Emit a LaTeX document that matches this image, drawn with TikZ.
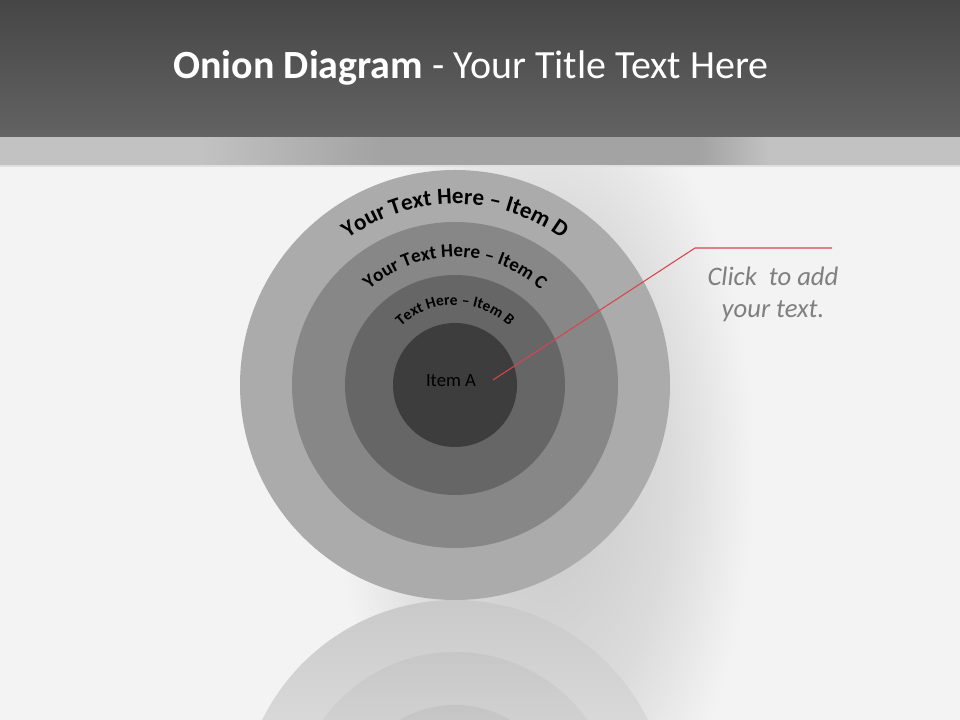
\documentclass[tikz,border=0pt]{standalone}
\usepackage{fontspec}
\setmainfont{Carlito}
\usepackage{tikz}
\usetikzlibrary{shapes,arrows.meta,calc,positioning,decorations.text}
\tikzset{>=latex}
\usepackage{xcolor}

\definecolor{slidebg}{HTML}{F3F3F3}
\definecolor{headtop}{HTML}{464646}
\definecolor{headbot}{HTML}{636363}
\definecolor{bandlight}{HTML}{C2C2C2}
\definecolor{banddark}{HTML}{A3A3A3}
\definecolor{ringD}{HTML}{ABABAB}
\definecolor{ringC}{HTML}{878787}
\definecolor{ringB}{HTML}{666666}
\definecolor{ringA}{HTML}{3D3D3D}
\definecolor{calloutred}{HTML}{D9434F}
\definecolor{callouttext}{HTML}{7F7F7F}

% soft shadow behind the onion
\pgfdeclareradialshading{softshadow}{\pgfpoint{0bp}{0bp}}{%
  color(0bp)=(black!22); color(8bp)=(black!14); color(13bp)=(slidebg); color(50bp)=(slidebg)}

\tikzset{
  ringlabel/.style={decorate, decoration={text along path, text align=center}},
  titletext/.style={text=white, anchor=base, inner sep=0pt, font=\fontsize{30}{36}\selectfont},
  itemtext/.style={text=black, font=\fontsize{14}{17}\selectfont},
  callout/.style={text=callouttext, align=center, font=\itshape\fontsize{20}{24}\selectfont},
  calloutline/.style={draw=calloutred, line width=0.8pt}
}

\begin{document}
\begin{tikzpicture}[x=0.75pt,y=0.75pt]
  \useasboundingbox (0,0) rectangle (960,720);
  \clip (0,0) rectangle (960,720);

  % slide background
  \fill[slidebg] (0,0) rectangle (960,720);
  \shade[shading=softshadow] (545,250) ellipse [x radius=400, y radius=800];

  % grey band under the title bar
  \fill[bandlight] (0,554) rectangle (960,600);
  \shade[left color=bandlight, right color=banddark] (200,554) rectangle (380,600);
  \fill[banddark] (379,554) rectangle (701,600);
  \shade[left color=banddark, right color=bandlight] (700,554) rectangle (770,600);
  \draw[white!88!black, line width=0.8pt] (0,554) -- (960,554);

  % title bar
  \shade[top color=headtop, bottom color=headbot] (0,583) rectangle (960,720);
  \node[titletext] (title) at (471,641) {\textbf{Onion Diagram} - Your Title Text Here};

  \def\cx{455}
  \coordinate (ctr) at (\cx,335);
  \coordinate (mirror) at (\cx,-95);

  % reflection below the onion
  \foreach \r/\ctop/\cbot in {215/21/0,163/22/4,110/23/8}
    {
      \shade[top color=black!\ctop, bottom color=black!\cbot] (mirror) circle[radius=\r];
    }

  % the rings, outside in
  \foreach \r/\col in {215/ringD,163/ringC,110/ringB,62/ringA}
    {
      \fill[\col] (ctr) circle[radius=\r];
    }

  % curved labels
  \path[ringlabel, decoration={text={|\fontsize{17.3}{20}\selectfont\bfseries|Your Text Here – Item D}}]
    ($(ctr)+(180:181)$) arc[start angle=180, end angle=0, radius=181];
  \path[ringlabel, decoration={text={|\fontsize{14.3}{17}\selectfont\bfseries|Your Text Here – Item C}}]
    ($(ctr)+(180:128)$) arc[start angle=180, end angle=0, radius=128];
  \path[ringlabel, decoration={text={|\fontsize{11.6}{14}\selectfont\bfseries|Text Here – Item B}}]
    ($(ctr)+(180:80)$) arc[start angle=180, end angle=0, radius=80];
  \node[itemtext] (itemA) at (451,339) {Item A};

  % callout
  \coordinate (pin) at (493,340);
  \coordinate (elbow) at (695,472);
  \coordinate (tail) at (832,472);
  \draw[calloutline] (pin) -- (elbow) -- (tail);
  \node[callout] (note) at (773,426) {Click\ \ to add\\your text.};
\end{tikzpicture}
\end{document}
